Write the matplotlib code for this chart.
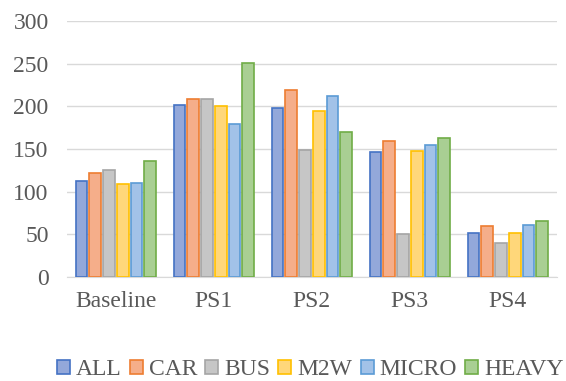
import numpy as np
import matplotlib.pyplot as plt
from matplotlib.patches import Patch

categories = ['Baseline', 'PS1', 'PS2', 'PS3', 'PS4']
series = ['ALL', 'CAR', 'BUS', 'M2W', 'MICRO', 'HEAVY']
all_v = [113, 202, 198, 147, 51]
car_v = [122, 209, 219, 159, 60]
bus_v = [125, 209, 149, 50, 40]
m2w_v = [109, 200, 195, 148, 51]
micro_v = [110, 179, 212, 155, 61]
heavy_v = [136, 251, 170, 163, 66]
values = [all_v, car_v, bus_v, m2w_v, micro_v, heavy_v]

edges = ['#4472C4', '#ED7D31', '#A5A5A5', '#FFC000', '#5B9BD5', '#70AD47']
fills = ['#93A8DA', '#F5AE8A', '#C6C6C6', '#FFD77A', '#A2C2E8', '#A9CF93']

plt.rcParams['font.family'] = ['Liberation Serif', 'DejaVu Serif']

fig = plt.figure(figsize=(5.66, 3.81), dpi=100)
ax = fig.add_axes([0.118, 0.273, 0.866, 0.672])

x = np.arange(len(categories))
step = 0.14
w = 0.12
for i, (vals, ec, fc) in enumerate(zip(values, edges, fills)):
    ax.bar(x + (i - 2.5) * step, vals, width=w, color=fc, edgecolor=ec,
           linewidth=1.2, zorder=3)

ax.set_xlim(-0.5, 4.5)
ax.set_ylim(0, 300)
ax.set_yticks(range(0, 301, 50))
ax.set_xticks(x)
ax.set_xticklabels(categories)
ax.grid(axis='y', color='#D9D9D9', linewidth=1, zorder=0)
for s in ['top', 'right', 'left']:
    ax.spines[s].set_visible(False)
ax.spines['bottom'].set_color('#D9D9D9')
ax.tick_params(length=0, labelsize=17, colors='#595959')
ax.tick_params(axis='y', pad=13)
ax.tick_params(axis='x', pad=10)

handles = [Patch(facecolor=fc, edgecolor=ec, linewidth=1.2)
           for fc, ec in zip(fills, edges)]
fig.legend(handles, series, loc='center', bbox_to_anchor=(0.548, 0.03),
           ncol=6, frameon=False, fontsize=17, labelcolor='#595959',
           handlelength=0.55, handleheight=0.55, handletextpad=0.25,
           columnspacing=0.35, borderpad=0)

fig.savefig('out.png', dpi=100)
